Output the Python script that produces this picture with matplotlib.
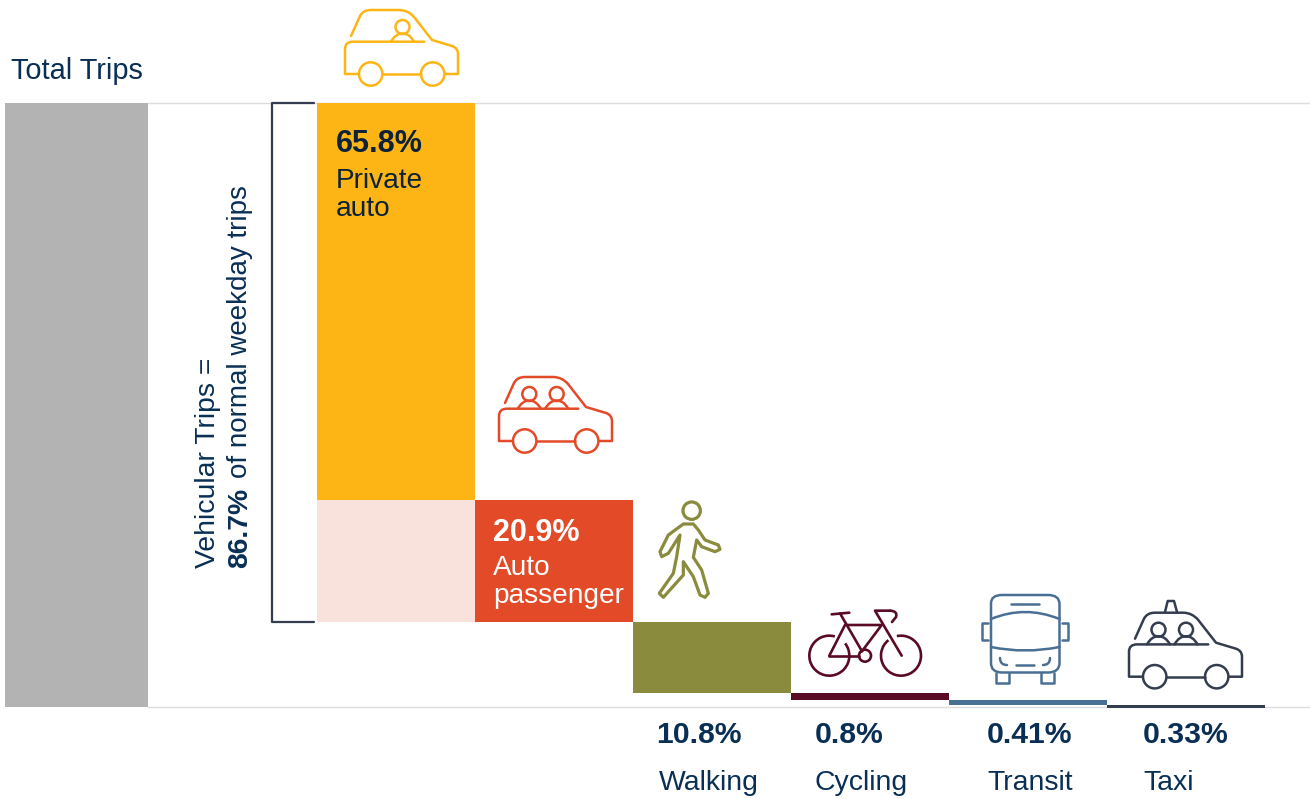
import numpy as np
import matplotlib
matplotlib.use('Agg')
import matplotlib.pyplot as plt
from matplotlib.path import Path
from matplotlib.patches import PathPatch, Circle, Arc

plt.rcParams['font.family'] = ['Liberation Sans', 'DejaVu Sans']

# shares as printed on the chart
categories = ['Private\nauto', 'Auto\npassenger', 'Walking', 'Cycling', 'Transit', 'Taxi']
share_labels = ['65.8%', '20.9%', '10.8%', '0.8%', '0.41%', '0.33%']
# bar heights (% of total trips)
bar_heights = [65.8, 20.2, 11.6, 1.16, 0.83, 0.6]
total_trips = 100
bar_colors = ['#FDB515', '#E24A28', '#8A8B3C', '#5A0A24', '#4A6F94', '#333D4F']
NAVY = '#0A2F55'
INK = '#0B2238'
GREY = '#B3B3B3'
PALE = '#F9E1DC'
RULE = '#DDDDDD'

fig = plt.figure(figsize=(13.1, 7.99), dpi=100)

# bars: x in category slots, y in % of total
ax = fig.add_axes([0, 0, 1, 1])
ax.set_xlim(-317 / 158, (1310 - 317) / 158)
ax.set_ylim((707 - 799) / 6.04, 707 / 6.04)
ax.axis('off')

ax.axhline(total_trips, xmin=148 / 1310, color=RULE, lw=1, zorder=1)
ax.axhline(0, xmin=148 / 1310, color=RULE, lw=1, zorder=1)
ax.bar(-1.522, total_trips, width=143 / 158, color=GREY, zorder=2)

tops = total_trips - np.cumsum(bar_heights)
x = np.arange(len(bar_heights))
ax.bar(x + 0.5, bar_heights, width=1, bottom=tops, color=bar_colors, zorder=3)
# pale box showing the passenger share under the private auto bar
ax.bar(0.5, bar_heights[1], width=1, bottom=tops[1], color=PALE, zorder=2)

# overlay in pixel coordinates for text and icons
px = fig.add_axes([0, 0, 1, 1])
px.set_xlim(0, 1310)
px.set_ylim(799, 0)
px.axis('off')
px.patch.set_alpha(0)


def stroke(points, color, lw=1.8, closed=False):
    # points: (x, y) straight, ((cx, cy), (x, y)) for a quadratic corner
    verts, codes = [], []
    for p in points:
        if isinstance(p[0], tuple):
            verts += [p[0], p[1]]
            codes += [Path.CURVE3, Path.CURVE3]
        else:
            verts.append(p)
            codes.append(Path.LINETO)
    codes[0] = Path.MOVETO
    if closed:
        verts.append(verts[0])
        codes.append(Path.CLOSEPOLY)
    px.add_patch(PathPatch(Path(verts, codes), fill=False, ec=color, lw=lw,
                           capstyle='round', joinstyle='round', zorder=5))


def ring(cx, cy, r, color, lw=1.8):
    px.add_patch(Circle((cx, cy), r, fill=False, ec=color, lw=lw, zorder=5))


def car(dx, dy, color, heads):
    def s(pts):
        out = []
        for p in pts:
            if isinstance(p[0], tuple):
                out.append(((p[0][0] + dx, p[0][1] + dy), (p[1][0] + dx, p[1][1] + dy)))
            else:
                out.append((p[0] + dx, p[1] + dy))
        return out
    stroke(s([(351, 36), (360, 16), ((363, 10), (371, 10)), (399, 10), ((408, 10), (414, 17)),
              (432, 40), (452, 46), ((458, 48), (458, 54)), (458, 74), (445, 74)]), color)
    stroke(s([(420.7, 74), (382.7, 74)]), color)
    stroke(s([(358.5, 74), (345, 74), (345, 49), ((345, 41.7), (353, 41.7)), (424.3, 41.7)]), color)
    ring(370.7 + dx, 74 + dy, 11.7, color)
    ring(432.7 + dx, 74 + dy, 11.7, color)
    for hx in heads:
        ring(hx + dx, 27 + dy, 7, color)
        stroke(s([(hx - 11.5, 41.7), ((hx - 7, 33.5), (hx, 33.5)), ((hx + 7, 33.5), (hx + 11.5, 41.7))]), color)


car(0, 0, bar_colors[0], [402.5])
car(154, 367, bar_colors[1], [375.3, 402.7])
car(784, 602.7, bar_colors[5], [374.5, 402])
stroke([(1165, 612), (1167.7, 601), (1174, 601), (1177, 612)], bar_colors[5])


def z(points, ox, oy):
    return [(ox + a / 3, oy + b / 3) for a, b in points]


# walker
c = bar_colors[2]
ring(480 + 635 / 3, 370 + 422 / 3, 8.7, c, lw=2.3)
stroke(z([(610, 462), (640, 462), (655, 480), (675, 510), (715, 525), (720, 538), (705, 545),
          (665, 530), (650, 510), (640, 562), (665, 600), (685, 670), (675, 682), (660, 675),
          (640, 620), (610, 575), (610, 615), (550, 682), (538, 670), (580, 610), (590, 560),
          (600, 495), (565, 550), (545, 560), (540, 545), (565, 495)], 480, 370), c, lw=2.3, closed=True)

# bicycle
c = bar_colors[3]
ox, oy = 790, 590
px.add_patch(Arc((ox + 118 / 3, oy + 197 / 3), 40, 40, theta1=-38, theta2=286, ec=c, lw=1.9, zorder=5))
px.add_patch(Arc((ox + 333 / 3, oy + 197 / 3), 40, 40, theta1=258, theta2=591, ec=c, lw=1.9, zorder=5))
ring(ox + 225 / 3, oy + 197 / 3, 6, c, lw=1.9)
stroke(z([(118, 197), (165, 105), (275, 105), (215, 185)], ox, oy), c, lw=1.9)
stroke(z([(118, 197), (207, 197)], ox, oy), c, lw=1.9)
stroke(z([(150, 70), (215, 182)], ox, oy), c, lw=1.9)
stroke(z([(125, 73), (178, 68)], ox, oy), c, lw=1.9)
stroke(z([(335, 197), (255, 62), (300, 62)], ox, oy), c, lw=1.9)
stroke(z([(300, 62)], ox, oy) + [((ox + 108, oy + 21), (ox + 106, oy + 27)), (ox + 102, oy + 32)], c, lw=1.9)

# bus
c = bar_colors[4]
stroke(z([(603, 40)], ox, oy) + [((ox + 201, oy + 5), (ox + 212, oy + 5)), (ox + 258, oy + 5),
       ((ox + 269.5, oy + 5), (ox + 269.5, oy + 14)), (ox + 269.5, oy + 73),
       ((ox + 269.5, oy + 82.5), (ox + 258, oy + 82.5)), (ox + 212, oy + 82.5),
       ((ox + 201, oy + 82.5), (ox + 201, oy + 73))], c, closed=True)
stroke(z([(663, 42), (748, 42)], ox, oy), c)
stroke([(ox + 201, oy + 29), ((ox + 235, oy + 15), (ox + 269.5, oy + 29))], c)
stroke([(ox + 201, oy + 57), ((ox + 235, oy + 64), (ox + 269.5, oy + 57))], c)
stroke([(ox + 210, oy + 68), ((ox + 210, oy + 75), (ox + 217, oy + 75))], c)
stroke(z([(677, 225), (733, 225)], ox, oy), c)
stroke([(ox + 253, oy + 75), ((ox + 260, oy + 75), (ox + 260, oy + 68))], c)
stroke(z([(617, 250), (617, 280), (658, 280), (658, 250)], ox, oy), c)
stroke(z([(752, 250), (752, 280), (793, 280), (793, 250)], ox, oy), c)
stroke(z([(593, 100), (577, 100), (577, 150), (593, 150)], ox, oy), c)
stroke(z([(817, 100), (835, 100), (835, 150), (817, 150)], ox, oy), c)

# bracket
stroke([(314, 103), (272, 103), (272, 622), (314, 622)], '#333D4F', lw=1.6)

# text
px.text(11, 71, 'Total Trips', fontsize=20.9, color=NAVY, va='center')
px.text(336, 144, share_labels[0], fontsize=22, fontweight='bold', color=INK, va='center')
px.text(336, 195, categories[0], fontsize=20.2, color=INK, va='center', linespacing=1.08)
px.text(493, 533, share_labels[1], fontsize=22, fontweight='bold', color='white', va='center')
px.text(493, 582, categories[1], fontsize=20.2, color='white', va='center', linespacing=1.08)

label_x = [656, 815, 987, 1143]
name_x = [659, 815, 987, 1143]
for i in range(4):
    px.text(label_x[i], 735, share_labels[i + 2], fontsize=21.7, fontweight='bold', color=NAVY, va='center')
    px.text(name_x[i], 783, categories[i + 2], fontsize=20.4, color=NAVY, va='center')

px.text(208, 567.5, 'Vehicular Trips =', fontsize=20.4, color=NAVY, rotation=90, ha='center', va='bottom')
px.text(240, 567.5, '86.7%', fontsize=20.3, fontweight='bold', color=NAVY, rotation=90, ha='center', va='bottom')
px.text(240, 478, 'of normal weekday trips', fontsize=20, color=NAVY, rotation=90, ha='center', va='bottom')

fig.savefig('out.png', dpi=100)
